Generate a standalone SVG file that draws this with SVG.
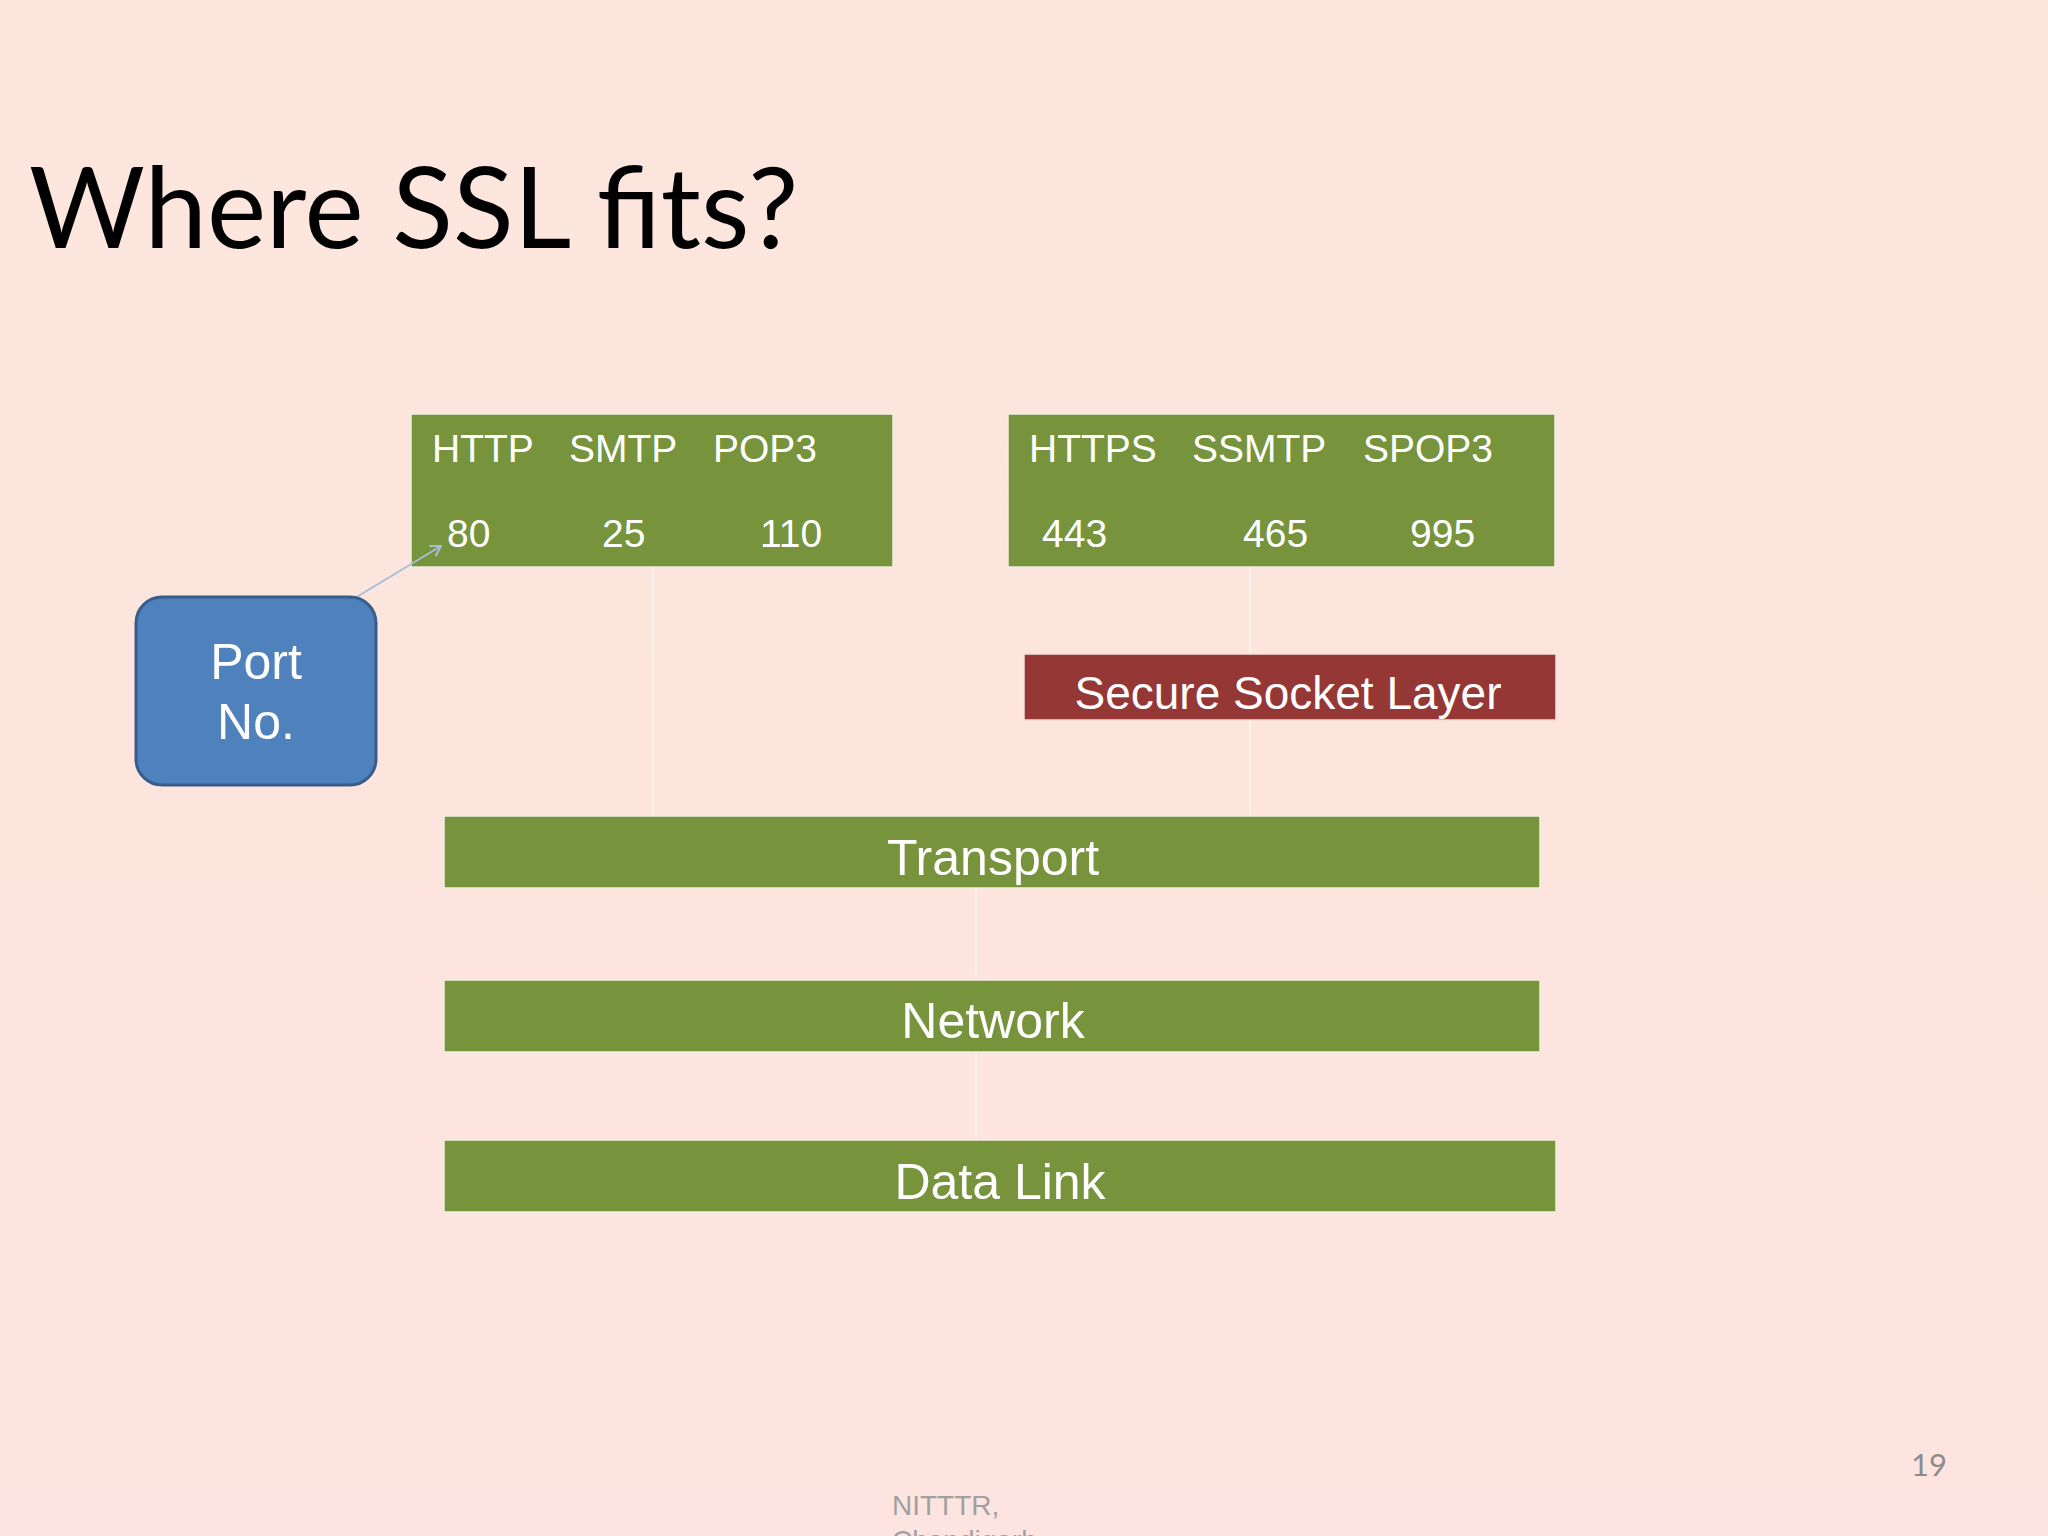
<svg xmlns="http://www.w3.org/2000/svg" width="2048" height="1536" viewBox="0 0 2048 1536">
<defs>
<linearGradient id="bg" x1="0" y1="0" x2="0" y2="1"><stop offset="0" stop-color="#fce6dc"/><stop offset="1" stop-color="#fee4e0"/></linearGradient>
<marker id="ah" markerWidth="14" markerHeight="14" refX="11" refY="7" orient="auto" markerUnits="userSpaceOnUse"><path d="M1,1 L11,7 L1,13" fill="none" stroke="#a9bdd6" stroke-width="2"/></marker>
<style>
.g{fill:#77933c;stroke:#eef0e0;stroke-width:1.5}
.t{font-family:"Liberation Sans",Arial,sans-serif;fill:#fff}
.c{stroke:#fff3ee;stroke-width:1.5}
</style>
</defs>
<rect width="2048" height="1536" fill="url(#bg)"/>
<text x="29" y="248" font-family="Lato,'Open Sans',sans-serif" font-size="112" fill="#000">Where SSL fits?</text>
<g id="app" class="t" font-size="39">
<rect class="g" x="411" y="414" width="482" height="153"/>
<text x="432" y="462">HTTP</text><text x="569" y="462">SMTP</text><text x="713" y="462">POP3</text>
<text x="447" y="547">80</text><text x="602" y="547">25</text><text x="760" y="547">110</text>
</g>
<g id="sapp" class="t" font-size="39">
<rect class="g" x="1008" y="414" width="547" height="153"/>
<text x="1029" y="462">HTTPS</text><text x="1192" y="462">SSMTP</text><text x="1363" y="462">SPOP3</text>
<text x="1042" y="547">443</text><text x="1243" y="547">465</text><text x="1410" y="547">995</text>
</g>
<g id="connectors">
<line class="c" x1="653" y1="567" x2="653" y2="816"/>
<line class="c" x1="1250" y1="567" x2="1250" y2="654"/>
<line class="c" x1="1250" y1="720" x2="1250" y2="816"/>
<line class="c" x1="976" y1="888" x2="976" y2="980"/>
<line class="c" x1="976" y1="1052" x2="976" y2="1140"/>
<line x1="355" y1="598" x2="441" y2="546" stroke="#a9bdd6" stroke-width="2" marker-end="url(#ah)"/>
</g>
<g id="port" class="t" font-size="50" text-anchor="middle">
<rect x="136" y="597" width="240" height="188" rx="26" fill="#4f81bd" stroke="#385d8a" stroke-width="3"/>
<text x="256" y="679">Port</text><text x="256" y="739">No.</text>
</g>
<g id="ssl" class="t" font-size="46" text-anchor="middle">
<rect x="1024" y="654" width="532" height="66" fill="#953735" stroke="#f3e0dc" stroke-width="1.5"/>
<text x="1288" y="709">Secure Socket Layer</text>
</g>
<g id="transport" class="t" font-size="50" text-anchor="middle">
<rect class="g" x="444" y="816" width="1096" height="72"/><text x="993" y="875">Transport</text>
</g>
<g id="network" class="t" font-size="50" text-anchor="middle">
<rect class="g" x="444" y="980" width="1096" height="72"/><text x="993" y="1038">Network</text>
</g>
<g id="datalink" class="t" font-size="50" text-anchor="middle">
<rect class="g" x="444" y="1140" width="1112" height="72"/><text x="1000" y="1199">Data Link</text>
</g>
<text x="1911" y="1476" font-family="Lato,sans-serif" font-size="31" fill="#8c8c8c">19</text>
<text x="892" y="1515" font-family="Liberation Sans,sans-serif" font-size="28" fill="#a0a0a0">NITTTR,</text>
<text x="892" y="1550" font-family="Liberation Sans,sans-serif" font-size="28" fill="#a0a0a0">Chandigarh</text>
</svg>
